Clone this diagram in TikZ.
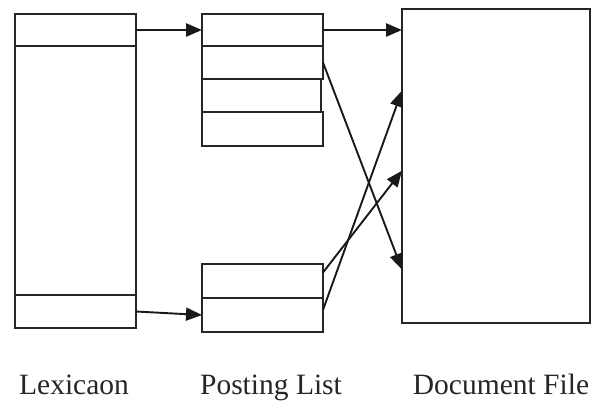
\documentclass[tikz,border=0pt]{standalone}
\usepackage{fontspec}
\setmainfont{Liberation Serif}
\usetikzlibrary{arrows.meta,calc}
\begin{document}
\begin{tikzpicture}[x=1pt,y=-1pt,
  cell/.style={draw=black!85,line width=1.5pt,rectangle,inner sep=0pt,outer sep=0pt,anchor=north west},
  link/.style={draw=black!90,line width=1.9pt,-{Triangle[length=16pt,width=13pt]}},
  thick link/.style={link,line width=2.6pt},
  lbl/.style={anchor=base,inner sep=0pt,font=\fontsize{29.5}{34}\selectfont,text=black!85}]
\useasboundingbox (0,0) rectangle (591,400);
% Lexicon
\node[cell,minimum width=121pt,minimum height=32pt] (lex1) at (15,14) {};
\node[cell,minimum width=121pt,minimum height=249pt] (lexm) at (15,46) {};
\node[cell,minimum width=121pt,minimum height=33pt] (lex2) at (15,295) {};
% Posting list, upper group
\node[cell,minimum width=121pt,minimum height=32pt] (p1) at (202,14) {};
\node[cell,minimum width=121pt,minimum height=33pt] (p2) at (202,46) {};
\node[cell,minimum width=119pt,minimum height=33pt] (p3) at (202,79) {};
\node[cell,minimum width=121pt,minimum height=34pt] (p4) at (202,112) {};
% Posting list, lower group
\node[cell,minimum width=121pt,minimum height=34pt] (q1) at (202,264) {};
\node[cell,minimum width=121pt,minimum height=34pt] (q2) at (202,298) {};
% Document file
\node[cell,minimum width=188pt,minimum height=314pt] (doc) at (402,9) {};
% connectors
\draw[thick link] (lex1.east) -- (p1.west);
\draw[thick link] (p1.east) -- (doc.west |- p1.east);
\draw[link] (lex2.east) -- (q2.west);
\draw[link] (p2.east) -- ($(doc.north west)!0.83!(doc.south west)$);
\draw[link] ($(q1.north east)!0.25!(q1.south east)$) -- ($(doc.north west)!0.515!(doc.south west)$);
\draw[link] ($(q2.north east)!0.35!(q2.south east)$) -- ($(doc.north west)!0.26!(doc.south west)$);
% labels
\node[lbl] (tlex) at (74,394) {Lexicaon};
\node[lbl] (tpost) at (271,394) {Posting List};
\node[lbl] (tdoc) at (501,394) {Document File};
\end{tikzpicture}
\end{document}
